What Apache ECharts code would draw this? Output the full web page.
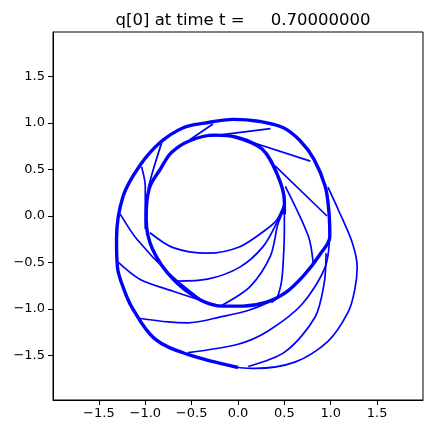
<!DOCTYPE html>
<html>
<head>
<meta charset="utf-8">
<script src="https://cdn.jsdelivr.net/npm/echarts@6/dist/echarts.min.js"></script>
<style>html,body{margin:0;padding:0;background:#fff}#c{width:432px;height:435px}</style>
</head>
<body>
<div id="c"></div>
<script>
const titleText = "q[0] at time t =     0.70000000";
const xTicks = [-1.5, -1.0, -0.5, 0.0, 0.5, 1.0, 1.5];
const yTicks = [-1.5, -1.0, -0.5, 0.0, 0.5, 1.0, 1.5];

// thick bands (many overlapping grid lines): outer boundary (bottom -> left -> top -> right side)
const outerThick = [[0.0,-1.63],[-0.54,-1.49],[-0.90,-1.32],[-1.14,-0.99],[-1.23,-0.79],[-1.30,-0.55],[-1.31,-0.25],[-1.24,0.21],[-1.06,0.54],[-0.84,0.79],[-0.59,0.95],[-0.36,1.0],[-0.05,1.04],[0.22,1.02],[0.49,0.95],[0.67,0.81],[0.82,0.61],[0.94,0.32],[0.98,0.05]];
// continues: lower right -> bottom -> inner left -> inner top -> inner right
const midThick = [[0.99,-0.22],[0.88,-0.42],[0.71,-0.64],[0.52,-0.82],[0.30,-0.93],[0.05,-0.97],[-0.16,-0.97],[-0.41,-0.90],[-0.70,-0.68],[-0.92,-0.36],[-0.99,-0.04],[-0.98,0.18],[-0.94,0.34],[-0.84,0.50],[-0.72,0.68],[-0.52,0.81],[-0.25,0.87],[-0.03,0.85],[0.26,0.72],[0.43,0.43],[0.50,0.16],[0.50,0.02]];

// thin curves
const outerThin = [[0.0,-1.63],[0.18,-1.64],[0.62,-1.57],[0.97,-1.35],[1.19,-1.03],[1.26,-0.79],[1.285,-0.55],[1.23,-0.28],[1.08,0.07],[0.97,0.31]];
const spokeVert = [[0.50,0.15],[0.50,-0.15],[0.49,-0.45],[0.47,-0.70],[0.42,-0.88],[0.36,-0.93]];
const spokeC = [[0.50,0.13],[0.42,-0.04],[0.31,-0.14],[0.02,-0.33],[-0.33,-0.40],[-0.70,-0.34],[-0.95,-0.18]];
const spokeD = [[0.50,0.10],[0.42,-0.07],[0.27,-0.33],[0.02,-0.55],[-0.33,-0.68],[-0.66,-0.70]];
const spokeE = [[0.50,0.08],[0.43,-0.09],[0.35,-0.43],[0.13,-0.76],[-0.19,-0.97]];
const diagLow = [[0.51,0.32],[0.76,-0.22],[0.81,-0.50]];
const diagUp = [[0.40,0.54],[0.96,0.0]];
const topSpoke = [[0.10,0.81],[0.78,0.59]];
const chord = [[-0.30,0.86],[0.35,0.94]];
const spokeTL = [[-0.52,0.82],[-0.27,0.99]];
const spokeL1 = [[-0.81,0.83],[-0.92,0.48],[-0.97,0.29]];
const spokeL2 = [[-1.04,0.53],[-1.0,0.32],[-1.0,-0.14]];
const lineA = [[-1.27,0.02],[-1.09,-0.25],[-0.73,-0.63],[-0.36,-0.93]];
const lineB = [[-1.29,-0.50],[-1.06,-0.68],[-0.70,-0.81],[-0.33,-0.93],[-0.19,-0.97]];
const curveE = [[-1.08,-1.10],[-0.75,-1.14],[-0.54,-1.15],[-0.16,-1.08],[0.10,-1.02],[0.35,-0.92],[0.56,-0.80]];
const curveF = [[-0.54,-1.47],[0.0,-1.38],[0.32,-1.24],[0.69,-0.95],[0.94,-0.55],[0.99,-0.20]];
const curveG = [[0.11,-1.62],[0.51,-1.46],[0.83,-1.09],[0.93,-0.72],[0.95,-0.40]];

const thick = [outerThick.concat(midThick)];
const thin = [outerThin, spokeVert, spokeC, spokeD, spokeE, diagLow, diagUp, topSpoke, chord, spokeTL, spokeL1, spokeL2, lineA, lineB, curveE, curveF, curveG];

const blue = '#0000ff';
const fmt = v => (v < 0 ? '\u2212' : '') + Math.abs(v).toFixed(1);
const font = 'DejaVu Sans';

const series = [];
thick.forEach(d => series.push({type:'line', data:d, smooth:0.35, showSymbol:false, symbol:'none', lineStyle:{color:blue, width:3.4}, silent:true}));
thin.forEach(d => series.push({type:'line', data:d, smooth:0.3, showSymbol:false, symbol:'none', lineStyle:{color:blue, width:1.7}, silent:true}));

const chart = echarts.init(document.getElementById('c'), null, {renderer:'canvas'});
chart.setOption({
  animation:false,
  backgroundColor:'#fff',
  title:{text:titleText, left:238, top:7, textAlign:'center', textStyle:{fontFamily:font, fontSize:16.5, fontWeight:'normal', color:'#000'}},
  grid:{left:53, right:9, top:32, bottom:35, show:true, borderColor:'#000', borderWidth:1, backgroundColor:'transparent'},
  xAxis:{type:'value', min:-1.995, max:1.995,
    axisLine:{show:true, onZero:false, lineStyle:{color:'#000', width:1}},
    axisTick:{show:true, length:5, customValues:xTicks, lineStyle:{color:'#000'}},
    axisLabel:{customValues:xTicks, formatter:fmt, margin:7, fontFamily:font, fontSize:13, color:'#000'},
    splitLine:{show:false}},
  yAxis:{type:'value', min:-1.98, max:1.98,
    axisLine:{show:true, onZero:false, lineStyle:{color:'#000', width:1}},
    axisTick:{show:true, length:5, customValues:yTicks, lineStyle:{color:'#000'}},
    axisLabel:{customValues:yTicks, formatter:fmt, margin:8, fontFamily:font, fontSize:13, color:'#000'},
    splitLine:{show:false}},
  series:series
});
</script>
</body>
</html>
